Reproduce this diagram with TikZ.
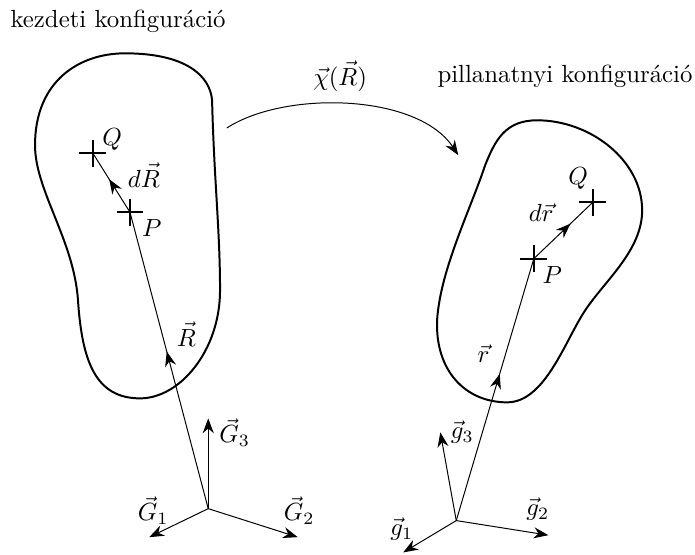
\documentclass[tikz,border=0pt]{standalone}
\usepackage{amsmath}
\usepackage{tikz}
\usetikzlibrary{arrows.meta, positioning, shapes.misc, decorations.markings}
\tikzset{
  body/.style   = {line width=0.8pt},
  xmark/.style  = {draw, cross out, rotate=45, line width=0.8pt,
                   minimum size=0.24cm, inner sep=0pt},
  vec/.style    = {-{Stealth[length=2.1mm]}},
  midvec/.style = {decoration={markings,
                   mark=at position #1 with {\arrow{Stealth[length=2.1mm]}}},
                   postaction={decorate}},
  lbl/.style    = {inner sep=1pt},
}

\begin{document}
\begin{tikzpicture}[scale=0.94]
  \useasboundingbox (0,0) rectangle (10.48,8.36);
  % titles
  \node[lbl] (kezd) at (1.78,8.04) {kezdeti konfiguráció};
  \node[lbl] (pill) at (8.52,7.21) {pillanatnyi konfiguráció};
  % bodies
  \draw[body] (1.885,7.556) .. controls (2.790,7.556) and (3.167,7.225) .. (3.198,6.848)
    .. controls (3.228,5.641) and (3.318,4.887) .. (3.318,3.982)
    .. controls (3.318,3.077) and (2.715,2.353) .. (2.112,2.353)
    .. controls (1.433,2.353) and (1.237,2.926) .. (1.176,3.831)
    .. controls (1.116,4.736) and (0.528,5.490) .. (0.528,6.169)
    .. controls (0.528,7.149) and (1.207,7.556) .. cycle;
  \draw[body] (8.100,6.546) .. controls (7.617,6.546) and (7.466,6.244) .. (7.315,5.867)
    .. controls (7.089,5.189) and (6.637,4.284) .. (6.591,3.529)
    .. controls (6.561,2.775) and (7.014,2.293) .. (7.647,2.293)
    .. controls (8.220,2.293) and (8.522,3.228) .. (8.824,3.680)
    .. controls (9.125,4.133) and (9.683,4.585) .. (9.683,5.189)
    .. controls (9.683,5.943) and (8.899,6.546) .. cycle;
  % mapping
  \coordinate (mapA) at (3.42,6.43);
  \coordinate (mapB) at (6.91,6.02);
  \draw[vec] (mapA) .. controls (4.30,7.00) and (6.30,6.95) .. (mapB);
  \node[lbl] (chi) at (5.13,7.21) {$\vec{\chi}(\vec{R})$};
  % left frame
  \coordinate (O1) at (3.14,0.69);
  \coordinate (G1) at (2.25,0.26);
  \coordinate (G2) at (4.49,0.26);
  \coordinate (G3) at (3.14,2.05);
  \draw[vec] (O1) -- (G1); \draw[vec] (O1) -- (G2); \draw[vec] (O1) -- (G3);
  \node[lbl] at (2.31,0.66) {$\vec{G}_1$};
  \node[lbl] at (4.51,0.66) {$\vec{G}_2$};
  \node[lbl] at (3.54,1.84) {$\vec{G}_3$};
  \node[xmark] (P1) at (1.96,5.16) {};
  \node[xmark] (Q1) at (1.40,6.05) {};
  \draw[midvec=0.53] (O1) -- (P1.center);
  \draw[midvec=0.56] (P1.center) -- (Q1.center);
  \node[lbl] at (2.29,4.92) {$P$};
  \node[lbl] at (1.69,6.26) {$Q$};
  \node[lbl] at (2.17,5.72) {$d\vec{R}$};
  \node[lbl] at (2.81,3.32) {$\vec{R}$};
  % right frame
  \coordinate (O2) at (6.88,0.51);
  \coordinate (g1) at (6.08,0.03);
  \coordinate (g2) at (8.27,0.29);
  \coordinate (g3) at (6.64,1.84);
  \draw[vec] (O2) -- (g1); \draw[vec] (O2) -- (g2); \draw[vec] (O2) -- (g3);
  \node[lbl] at (6.06,0.38) {$\vec{g}_1$};
  \node[lbl] at (8.11,0.68) {$\vec{g}_2$};
  \node[lbl] at (6.97,1.84) {$\vec{g}_3$};
  \node[xmark] (P2) at (8.05,4.46) {};
  \node[xmark] (Q2) at (8.94,5.31) {};
  \draw[midvec=0.56] (O2) -- (P2.center);
  \draw[midvec=0.62] (P2.center) -- (Q2.center);
  \node[lbl] at (8.33,4.22) {$P$};
  \node[lbl] at (8.72,5.67) {$Q$};
  \node[lbl] at (8.16,5.16) {$d\vec{r}$};
  \node[lbl] at (7.29,3.03) {$\vec{r}$};
\end{tikzpicture}
\end{document}
